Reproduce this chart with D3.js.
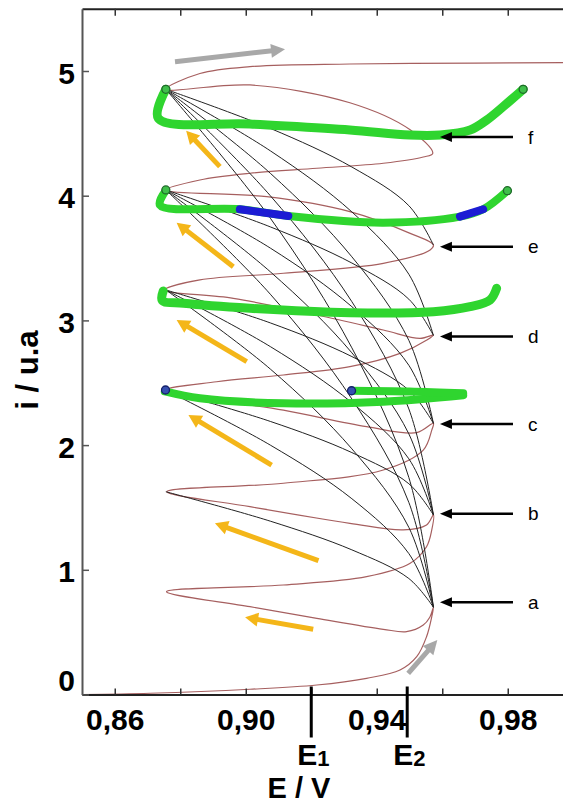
<!DOCTYPE html>
<html><head><meta charset="utf-8">
<script src="https://cdn.jsdelivr.net/npm/d3@7"></script>
<style>body{margin:0;background:#fff}svg{display:block}</style>
</head><body>
<script>
// ---------- data ----------
const xTicks = [0.86,0.88,0.90,0.92,0.94,0.96,0.98];
const xTickLabels = ["0,86","","0,90","","0,94","","0,98"];
const yTicks = [0,1,2,3,4,5];
const yTickLabels = ["0","1","2","3","4","5"];

// brown spiral (E, i)
const spiralE = [0.850,0.8708,0.9013,0.9217,0.9369,0.9471,0.9522,0.9552,0.9568,0.9573,
  0.9562,0.9542,0.9491,0.9420,0.9217,0.9013,0.8758,
  0.9115,0.9369,0.9502,0.9552,0.9568,0.9573,
  0.9552,0.9481,0.9318,0.9013,0.8759,
  0.9115,0.9420,0.9542,0.9568,0.9573,
  0.9522,0.9369,0.9115,0.8755,
  0.8911,0.9115,0.9318,0.9471,0.9553,0.9573,
  0.9532,0.9420,0.9217,0.8962,0.8752,
  0.8860,0.9115,0.9420,0.9563,0.9573,
  0.9502,0.9318,0.9064,0.8756,
  0.8860,0.9013,0.9217,0.9420,0.9542,0.9571,
  0.9502,0.9318,0.9013,0.8756,
  0.8860,0.9013,0.9318,0.9700,1.000];
const spiralI = [0.000,0.010,0.042,0.076,0.130,0.196,0.303,0.463,0.624,0.700,
  0.620,0.557,0.504,0.523,0.611,0.704,0.824,
  0.878,0.945,1.052,1.185,1.320,1.440,
  1.360,1.320,1.373,1.506,1.626,
  1.694,1.800,1.960,2.120,2.175,
  2.100,2.148,2.280,2.440,
  2.508,2.562,2.629,2.736,2.843,2.883,
  2.856,2.923,3.043,3.177,3.244,
  3.325,3.378,3.458,3.565,3.605,
  3.698,3.872,3.992,4.046,
  4.126,4.180,4.220,4.260,4.310,4.340,
  4.528,4.745,4.888,4.853,
  4.980,5.035,5.056,5.063,5.067];

// black fan curves: common E stations, i values per curve
const fanE = [0.8756,0.9075,0.9324,0.9498,0.9573];
const fanI = [
  [1.626,1.39,1.16,0.93,0.70],
  [2.44,2.00,1.57,1.13,0.70],
  [2.44,2.19,1.94,1.69,1.44],
  [3.244,2.61,1.97,1.34,0.70],
  [3.244,2.79,2.34,1.89,1.44],
  [3.244,2.98,2.71,2.44,2.175],
  [4.046,3.21,2.37,1.54,0.70],
  [4.046,3.39,2.74,2.09,1.44],
  [4.046,3.58,3.11,2.64,2.175],
  [4.046,3.75,3.46,3.17,2.88],
  [4.853,3.82,2.78,1.74,0.70],
  [4.853,4.00,3.15,2.29,1.44],
  [4.853,4.18,3.51,2.84,2.175],
  [4.853,4.36,3.87,3.37,2.88],
  [4.853,4.54,4.23,3.92,3.605]
];

// green curves
const greenF_E = [0.8756,0.8733,0.9013,0.9318,0.9500,0.9593,0.9685,0.9736,0.9786,0.9847];
const greenF_I = [4.853,4.620,4.575,4.527,4.487,4.487,4.527,4.607,4.714,4.853];
const greenE_E = [0.8756,0.8738,0.8982,0.9130,0.9420,0.9654,0.9725,0.9799];
const greenE_I = [4.040,3.925,3.891,3.837,3.784,3.832,3.891,4.040];
const greenD_E = [0.8748,0.8745,0.8810,0.9013,0.9318,0.9573,0.9685,0.9746,0.9766];
const greenD_I = [3.235,3.160,3.137,3.097,3.062,3.070,3.110,3.164,3.257];
const greenC1_E = [0.8753,0.8860,0.9115,0.9420,0.9664];
const greenC1_I = [2.430,2.375,2.335,2.348,2.400];
const greenC2_E = [0.9323,0.9500,0.9664];
const greenC2_I = [2.436,2.430,2.415];
// blue segments
const blue1_E = [0.8982,0.9130], blue1_I = [3.891,3.837];
const blue2_E = [0.9654,0.9725], blue2_I = [3.832,3.891];

// dots
const dotE = [0.8756,0.9847,0.8756,0.9799,0.8755,0.9323];
const dotI = [4.853,4.853,4.046,4.040,2.442,2.436];
const dotKind = ["g","g","g","g","b","b"];

// yellow arrows (tail -> head)
const yTailE = [0.9206,0.9222,0.9079,0.9003,0.8962,0.8921];
const yTailI = [0.523,1.073,1.840,2.669,3.431,4.233];
const yHeadE = [0.8998,0.8906,0.8825,0.8789,0.8789,0.8818];
const yHeadI = [0.619,1.373,2.241,3.003,3.783,4.521];
// gray arrows
const gTailE = [0.8784,0.9496], gTailI = [5.075,0.170];
const gHeadE = [0.9120,0.9585], gHeadI = [5.174,0.437];

// curve labels
const curveLabels = ["a","b","c","d","e","f"];
const curveLabelI = [0.74,1.45,2.17,2.87,3.59,4.47];
const labelArrowFromE = 0.9816, labelArrowToE = 0.9593;

// potential markers
const markerE = [0.920,0.9493];
const markerSub = ["1","2"];

// ---------- drawing ----------
const W = 563, H = 805;
const svg = d3.select("body").append("svg").attr("width",W).attr("height",H);
const x = d3.scaleLinear().domain([0.85,1.0]).range([82,573.25]);
const y = d3.scaleLinear().domain([0,5.5]).range([694.5,8.65]);
const font = "'Liberation Sans', Arial, sans-serif";

const line = d3.line().x(d=>x(d[0])).y(d=>y(d[1])).curve(d3.curveCatmullRom.alpha(0.5));
const zip = (a,b)=>a.map((v,i)=>[v,b[i]]);

// brown spiral
svg.append("path").attr("d", line(zip(spiralE,spiralI)))
  .attr("fill","none").attr("stroke","#a65f5f").attr("stroke-width",1.2);

// black fan
svg.append("g").selectAll("path").data(fanI).join("path")
  .attr("d", d=>line(zip(fanE,d)))
  .attr("fill","none").attr("stroke","#222").attr("stroke-width",1);

// arrows
function arrow(g,x1,y1,x2,y2,color,w,hl,hw){
  const dx=x2-x1, dy=y2-y1, L=Math.hypot(dx,dy), ux=dx/L, uy=dy/L;
  const bx=x2-ux*hl, by=y2-uy*hl;
  g.append("line").attr("x1",x1).attr("y1",y1).attr("x2",bx+ux).attr("y2",by+uy)
    .attr("stroke",color).attr("stroke-width",w);
  g.append("path").attr("d",`M${x2},${y2}L${bx-uy*hw/2},${by+ux*hw/2}L${bx+uy*hw/2},${by-ux*hw/2}Z`)
    .attr("fill",color);
}
const ga = svg.append("g");
yTailE.forEach((e,i)=>arrow(ga,x(e),y(yTailI[i]),x(yHeadE[i]),y(yHeadI[i]),"#f4b619",5,13,14));
gTailE.forEach((e,i)=>arrow(ga,x(e),y(gTailI[i]),x(gHeadE[i]),y(gHeadI[i]),"#a8a8a8",5,14,14));

// green curves
const gg = svg.append("g").attr("fill","none").attr("stroke-linecap","round").attr("stroke-linejoin","round");
[[greenF_E,greenF_I,9],[greenE_E,greenE_I,8],[greenD_E,greenD_I,9],[greenC1_E,greenC1_I,8],[greenC2_E,greenC2_I,8]]
  .forEach(([e,i,w])=>gg.append("path").attr("d",line(zip(e,i))).attr("stroke","#2fd52f").attr("stroke-width",w));
[[blue1_E,blue1_I],[blue2_E,blue2_I]].forEach(([e,i])=>
  gg.append("path").attr("d",d3.line().x(d=>x(d[0])).y(d=>y(d[1]))(zip(e,i)))
    .attr("stroke","#1c1cd4").attr("stroke-width",8));

// dots
svg.append("g").selectAll("circle").data(dotE).join("circle")
  .attr("cx",d=>x(d)).attr("cy",(d,i)=>y(dotI[i])).attr("r",4)
  .attr("fill",(d,i)=>dotKind[i]==="g"?"#3fbf4a":"#3650b0")
  .attr("stroke",(d,i)=>dotKind[i]==="g"?"#1f6a2a":"#14206a").attr("stroke-width",1.3);

// label arrows + letters
const gl = svg.append("g");
curveLabelI.forEach((v,i)=>{
  arrow(gl,x(labelArrowFromE),y(v),x(labelArrowToE),y(v),"#000",2.5,12,10);
  gl.append("text").attr("x",x(labelArrowFromE)+15).attr("y",y(v)).attr("dy","0.35em")
    .attr("font-family",font).attr("font-size",19).text(curveLabels[i]);
});

// axes
const xAxis = svg.append("g").attr("transform",`translate(0,${y(0)})`)
  .call(d3.axisBottom(x).tickValues(xTicks).tickSizeInner(-6).tickSizeOuter(0).tickPadding(14)
    .tickFormat((d,i)=>xTickLabels[i]));
const xTop = svg.append("g").attr("transform",`translate(0,${y(5.5)})`)
  .call(d3.axisTop(x).tickValues(xTicks).tickSizeInner(-7).tickSizeOuter(0).tickFormat(""));
const yAxis = svg.append("g").attr("transform",`translate(${x(0.85)},0)`)
  .call(d3.axisLeft(y).tickValues(yTicks).tickSizeInner(-7).tickSizeOuter(0).tickPadding(7)
    .tickFormat((d,i)=>yTickLabels[i]));
[xAxis,xTop].forEach(a=>{a.select(".domain").attr("stroke","#222").attr("stroke-width",2);
  a.selectAll(".tick line").attr("stroke","#333").attr("stroke-width",1.5);});
yAxis.select(".domain").attr("stroke","#555").attr("stroke-width",2);
yAxis.selectAll(".tick line").attr("stroke","#555").attr("stroke-width",1.5);
[xAxis,yAxis].forEach(a=>a.selectAll("text").attr("font-family",font).attr("font-size",30)
  .attr("font-weight","bold").attr("fill","#000"));
yAxis.selectAll(".tick text").attr("dy","0.4em");
yAxis.selectAll(".tick").filter(d=>d===0).select("text").attr("dy","-0.15em");

// potential markers
const gm = svg.append("g");
markerE.forEach((e,i)=>{
  gm.append("line").attr("x1",x(e)).attr("x2",x(e)).attr("y1",y(0)-8).attr("y2",y(0)+43)
    .attr("stroke","#000").attr("stroke-width",3);
  const t = gm.append("text").attr("x",x(e)-14).attr("y",y(0)+70.5)
    .attr("font-family",font).attr("font-size",30).attr("font-weight","bold");
  t.append("tspan").text("E");
  t.append("tspan").attr("font-size",22).attr("dy",1).text(markerSub[i]);
});

// axis titles
svg.append("text").attr("x",299).attr("y",798).attr("text-anchor","middle")
  .attr("font-family",font).attr("font-size",29).attr("font-weight","bold").text("E / V");
svg.append("text").attr("transform","translate(38,370) rotate(-90)").attr("text-anchor","middle")
  .attr("font-family",font).attr("font-size",31).attr("font-weight","bold").text("i / u.a");
</script>
</body></html>
